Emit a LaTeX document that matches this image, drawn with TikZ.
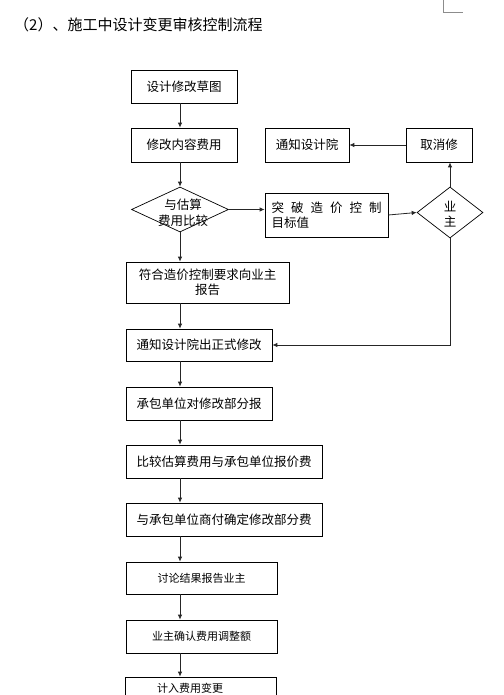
\documentclass[tikz,border=0pt]{standalone}
\usepackage{fontspec}
\setmainfont{Noto Sans CJK SC}
\usetikzlibrary{arrows.meta,shapes.geometric,positioning}
\tikzset{
  box/.style={draw=black, line width=0.7pt, inner sep=0pt, align=center,
    font=\fontsize{12.5}{15}\selectfont},
  dia/.style={draw=black, diamond, line width=0.7pt, inner sep=0pt},
  arr/.style={-{Latex[length=5pt,width=4.5pt]}, line width=0.8pt, draw=black!85},
}

\begin{document}
\begin{tikzpicture}[x=1pt,y=1pt]
        % Page frame
        \useasboundingbox (0,0) rectangle (503,-695);
        \clip (0,0) rectangle (503,-695);
        \draw[black!45, line width=0.5pt] (443,0) -- (443,-12) -- (463,-12);

        % Title
        \node[anchor=west, inner sep=0pt, font=\fontsize{15}{18}\selectfont] (title) at (14,-25) {（2）、施工中设计变更审核控制流程};

        % Top part
        \node[box, minimum width=106, minimum height=33] (b1) at (184,-86.5) {设计修改草图};
        \node[box, minimum width=106, minimum height=34] (b2) at (184,-145) {修改内容费用};
        \node[dia, minimum width=97, minimum height=45] (d1) at (180,-209.5) {};
        \node[font=\fontsize{12.5}{16}\selectfont, align=center] (d1t) at (183,-213) {与估算\\费用比较};
        \node[box, minimum width=123, minimum height=44, align=left] (t1) at (326.5,-215)
          {突\hspace{7pt}破\hspace{7pt}造\hspace{7pt}价\hspace{7pt}控\hspace{7pt}制\\目标值};
        \node[dia, minimum width=66, minimum height=51] (d2) at (450,-212.5) {};
        \node[font=\fontsize{12.5}{15}\selectfont, align=center] (d2t) at (450,-214.5) {业\\主};
        \node[box, minimum width=84, minimum height=34] (n1) at (307,-145) {通知设计院};
        \node[box, minimum width=66, minimum height=34] (q1) at (439,-145) {取消修};

        % Main column
        \node[box, minimum width=163, minimum height=41] (r1) at (207.5,-282.5) {符合造价控制要求向业主\\报告};
        \node[box, minimum width=146, minimum height=32] (r2) at (199,-345) {通知设计院出正式修改};
        \node[box, minimum width=146, minimum height=33] (r3) at (199,-403.5) {承包单位对修改部分报};
        \node[box, minimum width=196, minimum height=33] (r4) at (224,-461.5) {比较估算费用与承包单位报价费};
        \node[box, minimum width=196, minimum height=33] (r5) at (224,-519.5) {与承包单位商付确定修改部分费};
        \node[box, minimum width=151, minimum height=32, font=\fontsize{11}{13}\selectfont] (r6) at (201.5,-578) {讨论结果报告业主};
        \node[box, minimum width=151, minimum height=33, font=\fontsize{11}{13}\selectfont] (r7) at (201.5,-636.5) {业主确认费用调整额};
        \node[box, minimum width=151, minimum height=46] (r8) at (200.5,-700) {};
        \node[font=\fontsize{11}{13}\selectfont, inner sep=0pt] (r8t) at (190,-688.5) {计入费用变更};

        % Arrows
        \draw[arr] (b1.south -| d1) -- (b2.north -| d1);
        \draw[arr] (b2.south -| d1) -- (d1.north);
        \draw[arr] (d1.south) -- (r1.north -| d1);
        \draw[arr] (d1.east) -- (t1.west |- d1.east);
        \draw[arr] (t1.east) -- (d2.west);
        \draw[arr] (d2.north) -- (d2.north |- q1.south);
        \draw[arr] (q1.west) -- (n1.east);
        \draw[arr] (d2.south) |- (r2.east);
        \foreach \a/\b in {r1/r2, r2/r3, r3/r4, r4/r5, r5/r6, r6/r7, r7/r8}
          \draw[arr] (\a.south -| d1) -- (\b.north -| d1);
\end{tikzpicture}
\end{document}
